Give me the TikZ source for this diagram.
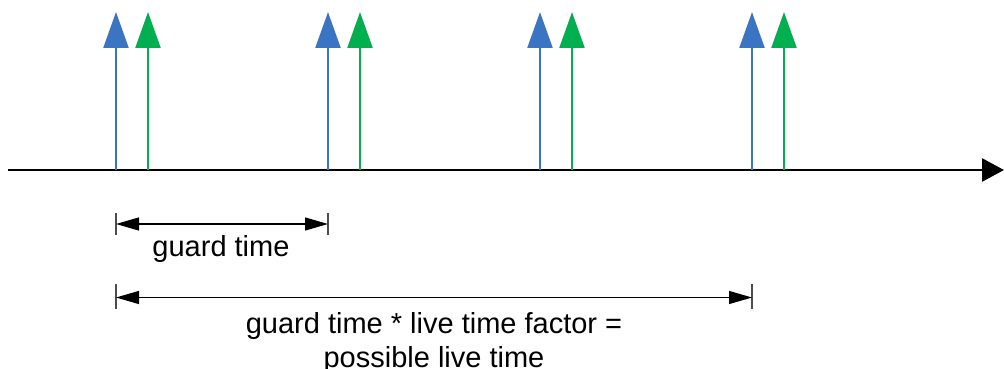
\documentclass[tikz,border=0pt]{standalone}
\usepackage{fontspec}
\setmainfont{Liberation Sans}
\usetikzlibrary{arrows.meta}
\definecolor{pulseblue}{HTML}{3A75C4}
\definecolor{pulsegreen}{HTML}{00B050}
\begin{document}
\begin{tikzpicture}[x=1pt,y=-1pt,
  axisline/.style={line width=2.8pt,-{Triangle[length=22pt,width=23pt]}},
  pulse/.style={line width=2.4pt,-{Triangle[length=36pt,width=25pt]}},
  dimline/.style={line width=1.2pt,{Triangle[length=23pt,width=13pt]}-{Triangle[length=23pt,width=13pt]}},
  tick/.style={line width=1.2pt,draw=black!70},
  lbl/.style={font=\fontsize{29}{34}\selectfont,align=center,inner sep=0pt}]
\useasboundingbox (0,0) rectangle (1004,369);
% axis
\coordinate (a0) at (8,170);
\coordinate (a1) at (1004,170);
\draw[axisline] (a0) -- (a1);
% pulses
\foreach \i/\xb in {1/116,2/328,3/540,4/752}{
  \coordinate (b\i) at (\xb,170);
  \coordinate (bt\i) at (\xb,12);
  \coordinate (g\i) at (\xb+32,170);
  \coordinate (gt\i) at (\xb+32,12);
  \draw[pulse,draw=pulseblue,fill=pulseblue] (b\i) -- (bt\i);
  \draw[pulse,draw=pulsegreen,fill=pulsegreen] (g\i) -- (gt\i);
}
% guard time dimension
\coordinate (d1s) at (116,224);
\coordinate (d1e) at (328,224);
\draw[tick] (116,213) -- (116,235);
\draw[tick] (328,213) -- (328,235);
\draw[dimline] (d1s) -- (d1e);
\node[lbl,anchor=base] (gt) at (221,256) {guard time};
% live time dimension
\coordinate (d2s) at (116,297.5);
\coordinate (d2e) at (752,297.5);
\draw[tick] (116,284) -- (116,309);
\draw[tick] (752,284) -- (752,309);
\draw[dimline] (d2s) -- (d2e);
\node[lbl,anchor=base] (lt) at (434,333) {guard time * live time factor =};
\node[lbl,anchor=base] (lt2) at (434,367) {possible live time};
\end{tikzpicture}
\end{document}
